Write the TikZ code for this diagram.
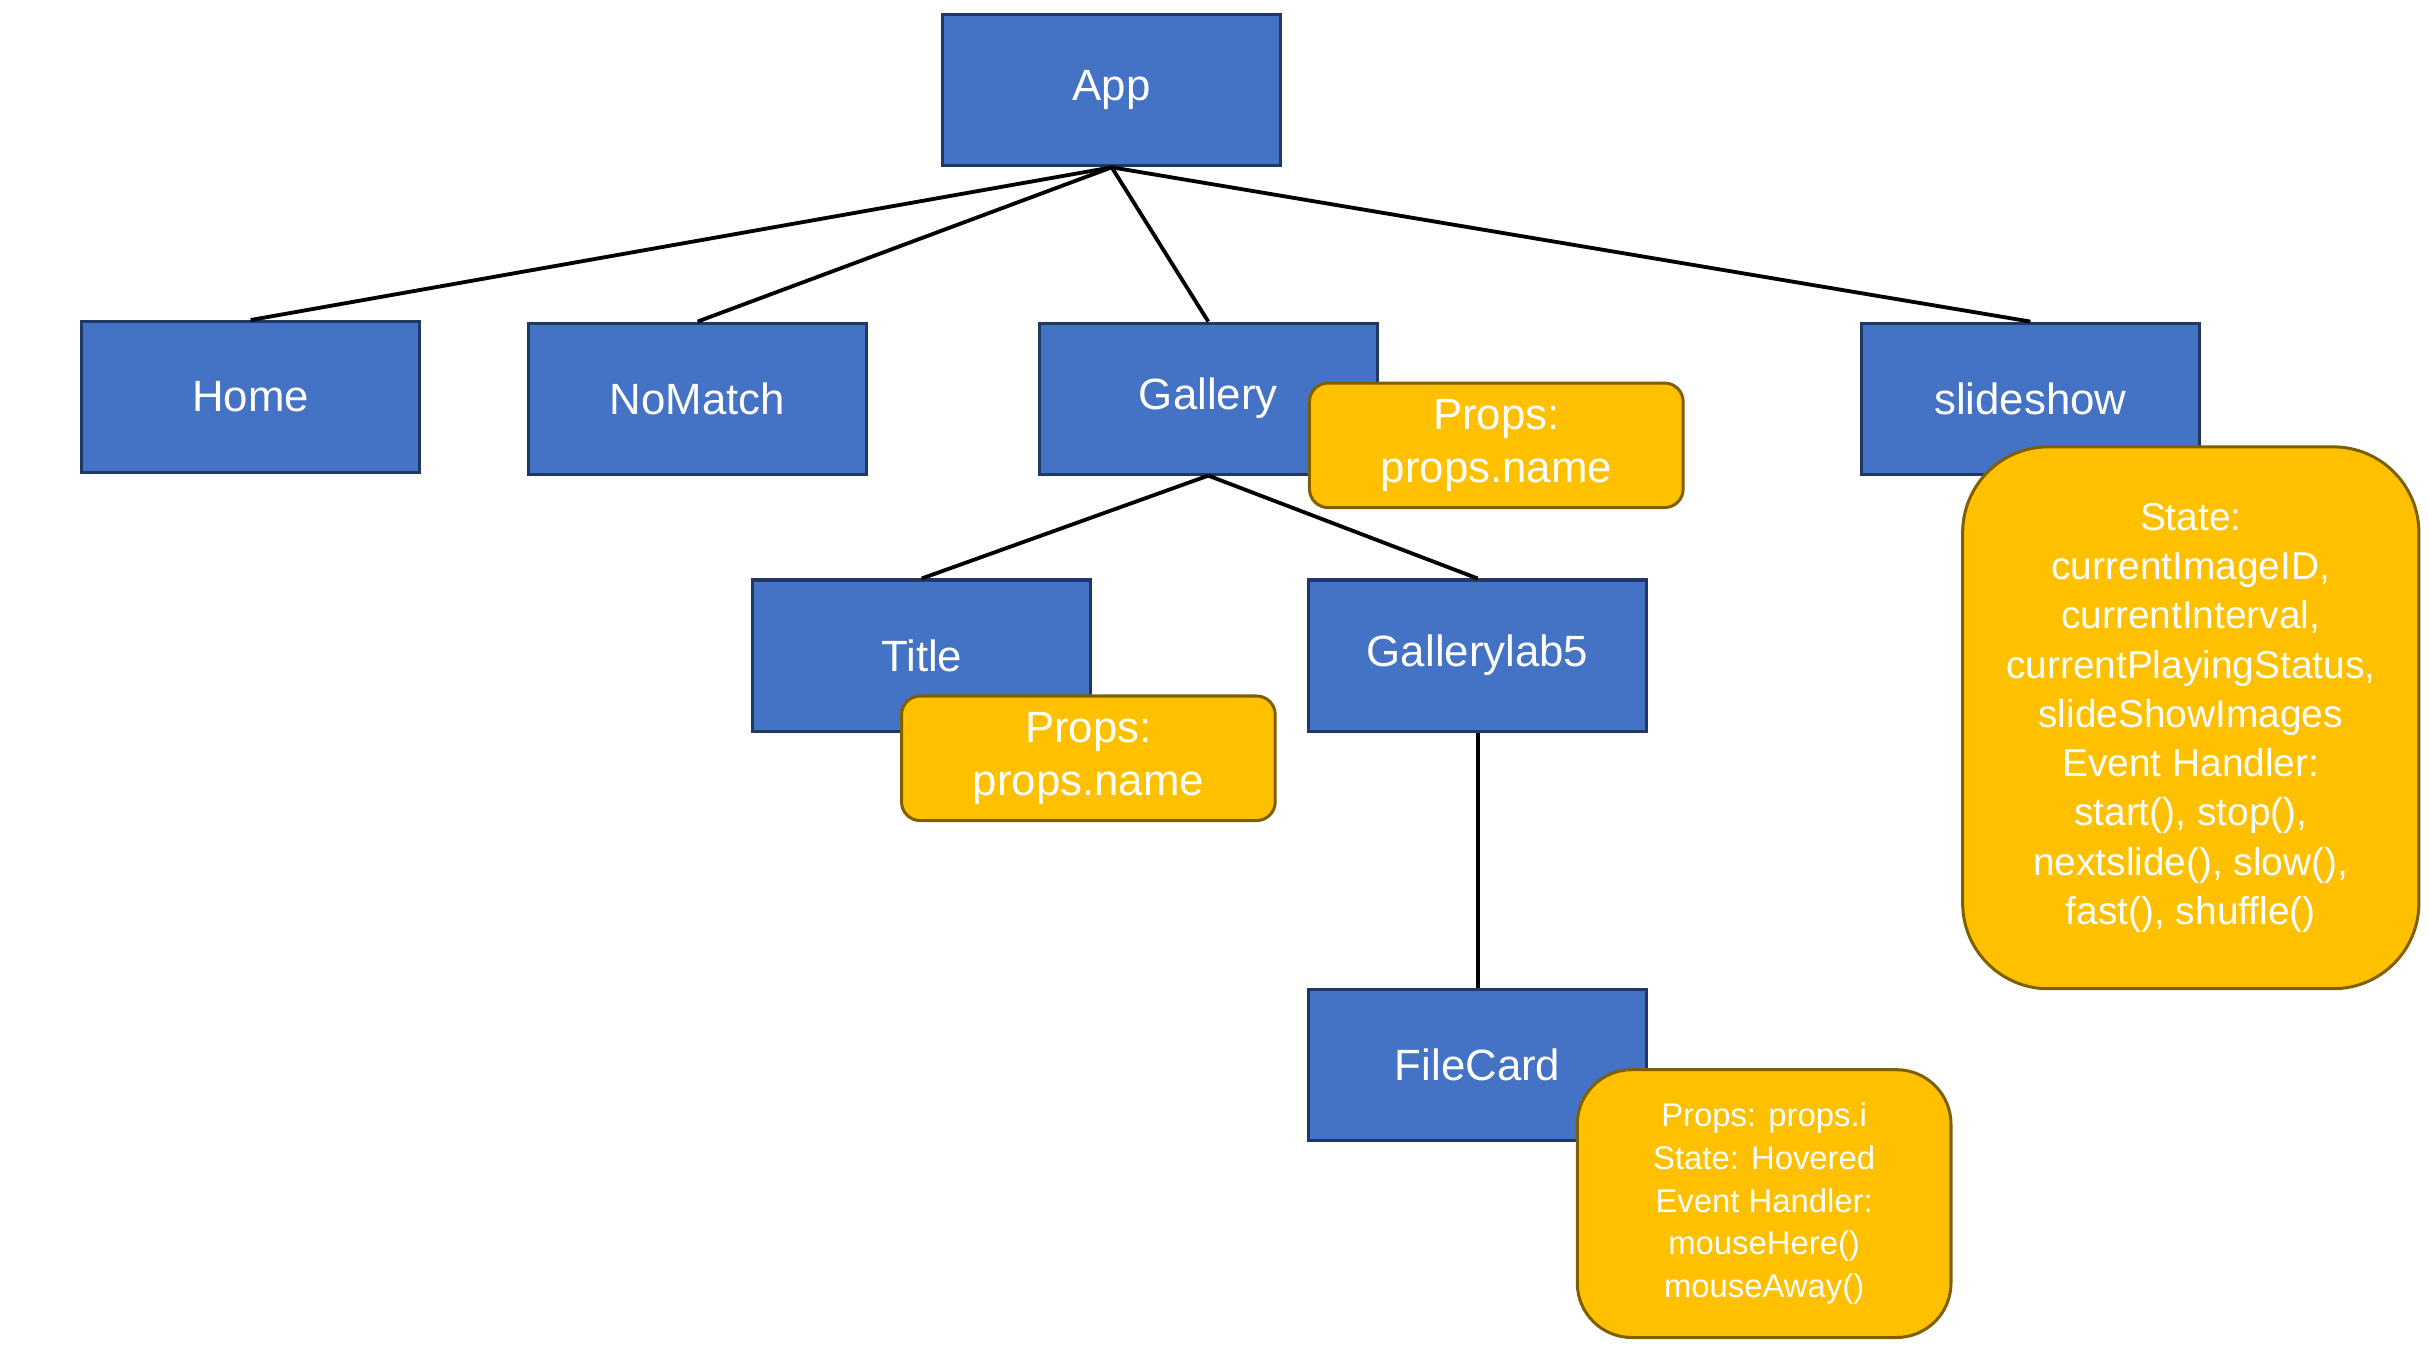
\documentclass[tikz,border=0pt]{standalone}
\usepackage{fontspec}
\setmainfont{Liberation Sans}
\usepackage{tikz}

\definecolor{boxblue}{HTML}{4472C4}
\definecolor{boxedge}{HTML}{1F3864}
\definecolor{propgold}{HTML}{FFC000}
\definecolor{propedge}{HTML}{7F6000}

\begin{document}
\begin{tikzpicture}[x=0.2mm, y=-0.2mm]
    \tikzstyle{comp} = [rectangle, draw=boxedge, fill=boxblue, line width=1.1pt, text=white, inner sep=0pt, minimum width=43.4mm, minimum height=19.4mm, font=\fontsize{16}{20}\selectfont]
    \tikzstyle{props} = [rectangle, rounded corners=2.4mm, draw=propedge, fill=propgold, line width=1.1pt, text=white, align=center, inner sep=0pt, minimum width=48mm, minimum height=16mm, font=\fontsize{16}{19.5}\selectfont]
    \tikzstyle{link} = [black, line width=1.4pt]
    \useasboundingbox (0,0) rectangle (1560,866);
    % components
    \node[comp] (app) at (714,58) {App};
    \node[comp] (home) at (161,255) {Home};
    \node[comp] (nomatch) at (448,256) {NoMatch};
    \node[comp] (gallery) at (776,256) {Gallery};
    \node[comp] (slideshow) at (1304,256) {slideshow};
    \node[comp] (title) at (592,421) {Title};
    \node[comp] (lab5) at (949,421) {Gallerylab5};
    \node[comp] (filecard) at (949,684) {FileCard};
    % tree
    \foreach \c in {home, nomatch, gallery, slideshow}
        \draw[link] (app.south) -- (\c.north);
    \draw[link] (gallery.south) -- (title.north);
    \draw[link] (gallery.south) -- (lab5.north);
    \draw[link] (lab5.south) -- (filecard.north);
    % props and state
    \node[props] (galleryprops) at (961,286) {Props:\\props.name};
    \node[props] (titleprops) at (699,487) {Props:\\props.name};
    \node[props, rounded corners=11mm, minimum width=58.6mm, minimum height=69.6mm, font=\fontsize{14.2}{18}\selectfont] (slidestate) at (1407,461)
        {State:\\currentImageID,\\currentInterval,\\currentPlayingStatus,\\slideShowImages\\Event Handler:\\start(), stop(),\\nextslide(), slow(),\\fast(), shuffle()};
    \node[props, rounded corners=7mm, minimum height=34.4mm, font=\fontsize{12}{15.6}\selectfont] (cardprops) at (1133,773)
        {Props: props.i\\State: Hovered\\Event Handler:\\mouseHere()\\mouseAway()};
\end{tikzpicture}
\end{document}
